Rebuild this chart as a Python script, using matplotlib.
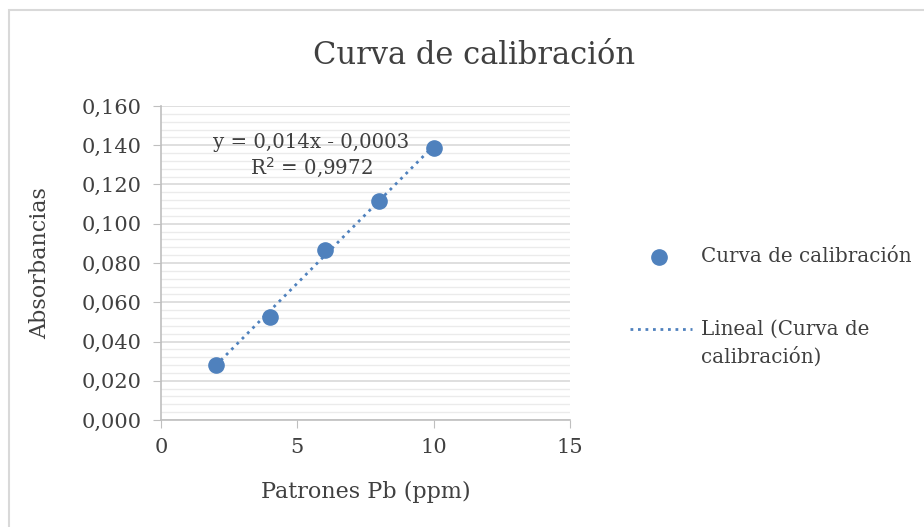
import numpy as np
import matplotlib
matplotlib.use("Agg")
import matplotlib.pyplot as plt
from matplotlib.ticker import MultipleLocator, FuncFormatter
from matplotlib.lines import Line2D
from matplotlib.patches import Rectangle

# data
patrones_ppm = [2, 4, 6, 8, 10]
absorbancias = [0.028, 0.0525, 0.0868, 0.1118, 0.1385]
slope = 0.014
intercept = -0.0003

plt.rcParams["font.family"] = ["DejaVu Serif"]

fig = plt.figure(figsize=(9.24, 5.27), dpi=100)
ax = fig.add_axes([161 / 924, 1 - 420 / 527, 409 / 924, 314 / 527])

txt = "#404040"
blue = "#4f81bd"
dots = (0, (1, 1.7))

# chart area border (only top/left visible in the crop)
fig.patches.append(Rectangle((9 / 924, -0.1), 2, 1.1 - 10 / 527, transform=fig.transFigure,
                             fill=False, edgecolor="#d9d9d9", linewidth=1.5))

ax.scatter(patrones_ppm, absorbancias, s=120, color=blue, zorder=3)

fit_x = np.array([min(patrones_ppm), max(patrones_ppm)])
ax.plot(fit_x, slope * fit_x + intercept, color=blue, linestyle=dots,
        linewidth=2, zorder=2)

ax.set_xlim(0, 15)
ax.set_ylim(0, 0.16)
ax.xaxis.set_major_locator(MultipleLocator(5))
ax.yaxis.set_major_locator(MultipleLocator(0.02))
ax.yaxis.set_minor_locator(MultipleLocator(0.004))
ax.yaxis.set_major_formatter(FuncFormatter(lambda v, p: f"{v:.3f}".replace(".", ",")))

ax.grid(axis="y", which="major", color="#d9d9d9", linewidth=1.2)
ax.grid(axis="y", which="minor", color="#ebebeb", linewidth=1)
ax.set_axisbelow(True)

for side in ["top", "right"]:
    ax.spines[side].set_visible(False)
for side in ["left", "bottom"]:
    ax.spines[side].set_color("#bfbfbf")
    ax.spines[side].set_linewidth(1.2)
ax.tick_params(which="major", length=6, color="#bfbfbf", labelsize=15,
               labelcolor=txt, direction="out")
ax.tick_params(which="minor", length=0)
ax.tick_params(axis="x", pad=7)
ax.tick_params(axis="y", pad=8)

ax.set_xlabel("Patrones Pb (ppm)", fontsize=16, color=txt, labelpad=17)
ax.set_ylabel("Absorbancias", fontsize=16, color=txt, labelpad=22)

fig.text(474 / 924, 1 - 55 / 527, "Curva de calibración", fontsize=22,
         color=txt, ha="center", va="center")

fig.text(311 / 924, 1 - 143 / 527, "y = 0,014x - 0,0003",
         fontsize=14.2, color=txt, ha="center", va="center")
fig.text(311 / 924, 1 - 168 / 527, r"R$^2$ = 0,9972",
         fontsize=14.2, color=txt, ha="center", va="center")

# legend drawn by hand so the dotted handle sits on the first text line
fig.add_artist(Line2D([659 / 924], [1 - 257 / 527], marker="o", linestyle="none",
                      color=blue, markersize=11, transform=fig.transFigure))
fig.text(701 / 924, 1 - 257 / 527, "Curva de calibración", fontsize=14.3,
         color=txt, ha="left", va="center")
fig.add_artist(Line2D([630 / 924, 692 / 924], [1 - 329 / 527, 1 - 329 / 527],
                      color=blue, linestyle=dots, linewidth=2,
                      transform=fig.transFigure))
fig.text(701 / 924, 1 - 329 / 527, "Lineal (Curva de", fontsize=14.3,
         color=txt, ha="left", va="center")
fig.text(701 / 924, 1 - 357 / 527, "calibración)", fontsize=14.3,
         color=txt, ha="left", va="center")

fig.savefig("out.png", dpi=100)
